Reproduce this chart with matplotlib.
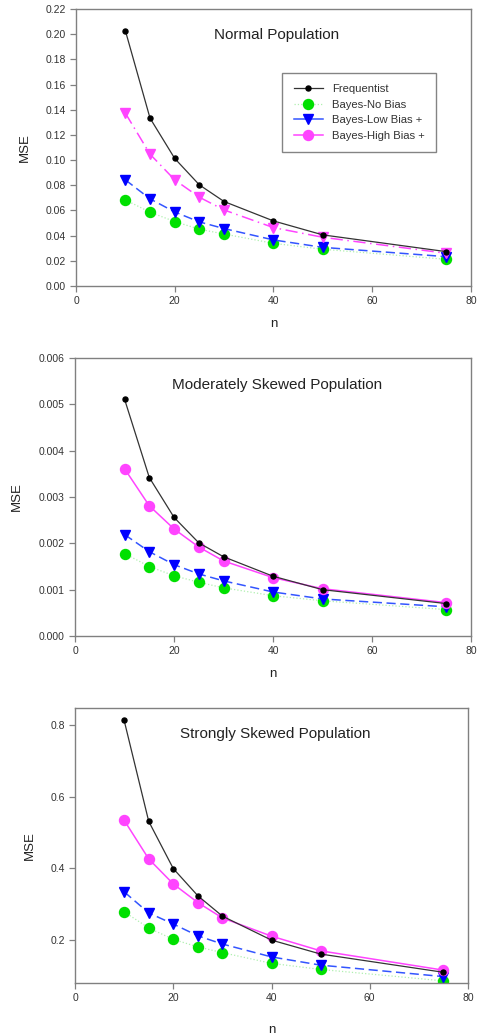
import matplotlib.pyplot as plt
from matplotlib.lines import Line2D

# ----------------------------------------------------------
# Data
# ----------------------------------------------------------
n = [10, 15, 20, 25, 30, 40, 50, 75]
labels = ["Frequentist", "Bayes-No Bias", "Bayes-Low Bias +", "Bayes-High Bias +"]

normal_freq = [0.2028, 0.1333, 0.1013, 0.0803, 0.0671, 0.0517, 0.0406, 0.0273]
normal_nobias = [0.0684, 0.0586, 0.0512, 0.0451, 0.0413, 0.0339, 0.0292, 0.0212]
normal_low = [0.0843, 0.0692, 0.0588, 0.0509, 0.0456, 0.0366, 0.0307, 0.0233]
normal_high = [0.1373, 0.1047, 0.0843, 0.0705, 0.0604, 0.0464, 0.0387, 0.0260]

mod_freq = [0.00511, 0.00342, 0.00256, 0.00201, 0.00171, 0.00129, 0.00100, 0.00070]
mod_nobias = [0.00178, 0.00150, 0.00130, 0.00116, 0.00104, 0.00087, 0.00076, 0.00057]
mod_low = [0.00219, 0.00182, 0.00154, 0.00134, 0.00119, 0.00095, 0.00080, 0.00063]
mod_high = [0.00361, 0.00281, 0.00231, 0.00192, 0.00162, 0.00126, 0.00102, 0.00072]

strong_freq = [0.813, 0.531, 0.399, 0.323, 0.266, 0.199, 0.160, 0.109]
strong_nobias = [0.278, 0.233, 0.201, 0.180, 0.164, 0.134, 0.117, 0.085]
strong_low = [0.334, 0.275, 0.244, 0.211, 0.188, 0.152, 0.129, 0.097]
strong_high = [0.534, 0.426, 0.356, 0.304, 0.261, 0.210, 0.169, 0.115]

titles = ["Normal Population", "Moderately Skewed Population", "Strongly Skewed Population"]

# ----------------------------------------------------------
# Styles
# ----------------------------------------------------------
plt.rcParams["font.family"] = ["Liberation Sans", "DejaVu Sans"]
BLACK_LINE = "#333333"
GREEN = "#00e000"
BLUE = "#0000ff"
MAGENTA = "#ff44ff"
MS = 7.2


def style_axes(ax, ypad, xpad):
    for sp in ax.spines.values():
        sp.set_color("#808080")
        sp.set_linewidth(1.0)
    ax.tick_params(colors="#808080", labelcolor="#333333", labelsize=7.5,
                   direction="out", length=4, width=0.9)
    ax.set_xlim(0, 80)
    ax.set_xticks([0, 20, 40, 60, 80])
    ax.set_xlabel("n", fontsize=9.5, color="#222222", labelpad=xpad)
    ax.set_ylabel("MSE", fontsize=9.5, color="#222222", labelpad=ypad)


def plot_panel(ax, freq, nobias, low, high, high_marker, high_ls):
    ax.plot(n, nobias, color="#b0f0b0", ls=":", lw=0.9, marker="o", ms=MS,
            mfc=GREEN, mec=GREEN, zorder=2)
    ax.plot(n, low, color="#3355ff", ls=(0, (6, 3)), lw=1.1, marker="v", ms=MS,
            mfc=BLUE, mec=BLUE, zorder=3)
    ax.plot(n, high, color=MAGENTA, ls=high_ls, lw=1.1, marker=high_marker, ms=MS,
            mfc=MAGENTA, mec=MAGENTA, zorder=4)
    ax.plot(n, freq, color=BLACK_LINE, ls="-", lw=0.9, marker="o", ms=3.6,
            mfc="black", mec="black", zorder=5)


fig = plt.figure(figsize=(4.78, 10.34), dpi=100)

ax1 = fig.add_axes([0.159, 0.7234, 0.826, 0.2679])
ax2 = fig.add_axes([0.157, 0.3849, 0.8285, 0.2689])
ax3 = fig.add_axes([0.157, 0.0493, 0.822, 0.2660])

# Panel 1: Normal
plot_panel(ax1, normal_freq, normal_nobias, normal_low, normal_high,
           "v", (0, (8, 3, 1, 3)))
style_axes(ax1, 10.5, 8)
ax1.set_ylim(0, 0.22)
ax1.set_yticks([i * 0.02 for i in range(12)])
ax1.set_yticklabels([f"{i * 0.02:.2f}" for i in range(12)])

handles = [
    Line2D([], [], color=BLACK_LINE, lw=0.9, marker="o", ms=3.6, mfc="black", mec="black"),
    Line2D([], [], color="#b0f0b0", ls=":", lw=0.9, marker="o", ms=MS, mfc=GREEN, mec=GREEN),
    Line2D([], [], color="#3355ff", lw=1.1, marker="v", ms=MS, mfc=BLUE, mec=BLUE),
    Line2D([], [], color=MAGENTA, lw=1.1, marker="o", ms=MS, mfc=MAGENTA, mec=MAGENTA),
]
leg = ax1.legend(handles, labels, loc="upper left", bbox_to_anchor=(0.523, 0.77),
                 fontsize=8.1, frameon=True, fancybox=False, edgecolor="#666666",
                 handlelength=2.6, borderpad=1.0, labelspacing=0.5,
                 handletextpad=0.8, borderaxespad=0)
leg.get_frame().set_linewidth(1.0)
for t in leg.get_texts():
    t.set_color("#333333")

# Panel 2: Moderately skewed
plot_panel(ax2, mod_freq, mod_nobias, mod_low, mod_high, "o", "-")
style_axes(ax2, 11, 8)
ax2.set_ylim(0, 0.006)
ax2.set_yticks([i * 0.001 for i in range(7)])
ax2.set_yticklabels([f"{i * 0.001:.3f}" for i in range(7)])

# Panel 3: Strongly skewed
plot_panel(ax3, strong_freq, strong_nobias, strong_low, strong_high, "o", "-")
style_axes(ax3, 10, 14.5)
ax3.set_ylim(0.079, 0.848)
ax3.set_yticks([0.2, 0.4, 0.6, 0.8])
ax3.set_yticklabels(["0.2", "0.4", "0.6", "0.8"])

for ax, title, ty in zip([ax1, ax2, ax3], titles, [0.907, 0.902, 0.905]):
    ax.text(0.509, ty, title, transform=ax.transAxes, ha="center", va="center",
            fontsize=11, color="#222222")

fig.savefig("out.png", dpi=100)
plt.close(fig)
